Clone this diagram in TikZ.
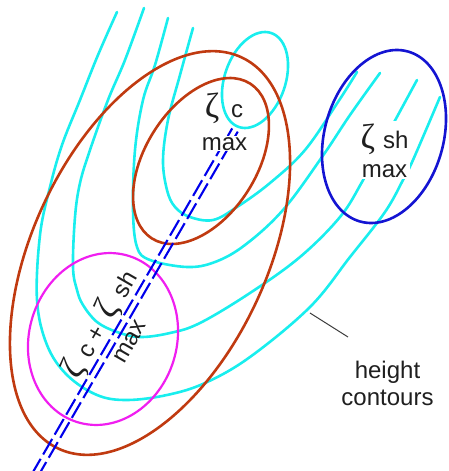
\documentclass[tikz,border=0pt]{standalone}
\usepackage{fontspec}
\setmainfont{Liberation Sans}
\newfontfamily\zetafont{Liberation Serif}
\definecolor{cy}{RGB}{25,238,238}
\definecolor{brn}{RGB}{192,58,16}
\definecolor{bl}{RGB}{20,20,210}
\definecolor{mg}{RGB}{240,30,240}
\definecolor{dsh}{RGB}{0,0,235}
\definecolor{lead}{RGB}{60,60,60}
\newcommand\zt{{\zetafont\fontsize{35}{35}\selectfont ζ}}
\begin{document}
\begin{tikzpicture}[x=1pt,y=1pt,
  contour/.style={cy, line width=2.6pt, line cap=round, line join=round},
  brline/.style={brn, line width=2.6pt},
  blline/.style={bl, line width=2.6pt},
  mgline/.style={mg, line width=2.2pt},
  axisline/.style={dsh, line width=2.1pt, dash pattern=on 18pt off 5pt},
  lbl/.style={font=\fontsize{24}{27}\selectfont, text=black!88, inner sep=1pt},
  leader/.style={lead, line width=1pt}]
\useasboundingbox (0,0) rectangle (448,-471);
% height contours
\draw[contour] plot[smooth, tension=0.6] coordinates {(117,-12) (98,-55) (80,-100) (62,-145) (50,-187) (40,-235) (37,-300) (47,-345) (67,-375) (97,-395) (127,-400) (167,-395) (205,-383) (250,-357) (310,-307) (350,-257) (385,-212) (403,-180) (413,-160) (440,-97)};
\draw[contour] plot[smooth, tension=0.6] coordinates {(144,-8) (125,-60) (108,-100) (90,-150) (80,-183) (75,-217) (73,-267) (77,-290) (83,-305) (97,-322) (117,-332) (140,-337) (170,-333) (200,-323) (250,-293) (300,-257) (340,-217) (362,-182) (380,-148) (398,-115) (417,-80)};
\draw[contour] plot[smooth, tension=0.6] coordinates {(168,-18) (155,-65) (143,-100) (135,-150) (133,-210) (137,-247) (150,-260) (187,-267) (215,-262) (245,-245) (283,-210) (322,-157) (350,-115) (380,-73)};
\draw[contour] plot[smooth, tension=0.6] coordinates {(193,-28) (180,-75) (168,-120) (163,-160) (167,-190) (175,-207) (190,-217) (213,-220) (237,-207) (270,-183) (305,-150) (338,-102) (357,-72)};
\draw[contour, rotate around={70.8:(255,-80)}] (255,-80) ellipse [x radius=49.7, y radius=30.4];
% vorticity regions
\draw[brline, rotate around={64.9:(150,-253)}] (150,-253) ellipse [x radius=216, y radius=117];
\draw[brline, rotate around={57.6:(201,-161)}] (201,-161) ellipse [x radius=91.7, y radius=55.6];
\draw[blline, rotate around={74.2:(384,-136.5)}] (384,-136.5) ellipse [x radius=88.3, y radius=59.4];
\draw[mgline, rotate around={72.9:(103,-339)}] (103,-339) ellipse [x radius=87, y radius=73.8];
% tilt axis
\coordinate (axA1) at (31.6,-474.4);
\coordinate (axA2) at (232.2,-128.4);
\coordinate (axB1) at (37.2,-477.6);
\coordinate (axB2) at (237.8,-131.6);
\draw[axisline] (axA1) -- (axA2);
\draw[axisline] (axB1) -- (axB2);
% labels
\node[lbl, anchor=base] (zc) at (224,-117) {\zt\hspace{12pt}c};
\node[lbl, anchor=base, fill=white] (zcmax) at (224.5,-150) {max};
\node[lbl, anchor=base, fill=white, inner sep=2pt, align=center] (zsh) at (384.5,-177) {\zt\hspace{8pt}sh\\[2pt]max};
\node[lbl, anchor=base, rotate=60] (zsum) at (107.9,-329) {\zt\hspace{10pt}c\hspace{6pt}+\hspace{13pt}\zt\hspace{10pt}sh};
\node[lbl, anchor=base, rotate=60] (zsummax) at (135.6,-345) {max};
\node[lbl, anchor=base, align=center] (hc) at (387.5,-405) {height\\contours};
\coordinate (ld1) at (310,-313);
\coordinate (ld2) at (348,-337);
\draw[leader] (ld2) -- (ld1);
\end{tikzpicture}
\end{document}
